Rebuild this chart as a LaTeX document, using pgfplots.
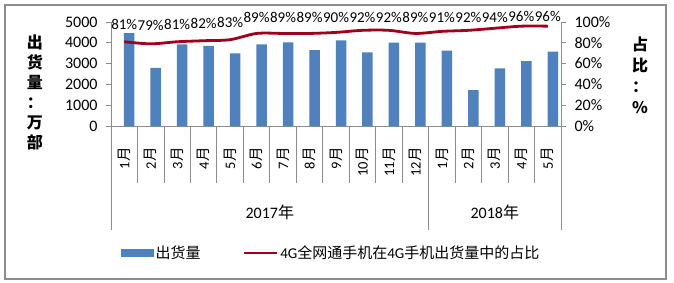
\documentclass[border=0pt]{standalone}
\usepackage{fontspec}
\setmainfont{Carlito}
\newfontfamily\cjk{Noto Sans CJK SC}
\usepackage{pgfplots}
\pgfplotsset{compat=1.18}
\definecolor{barblue}{HTML}{4F81BD}
\definecolor{linered}{HTML}{A0001E}
\definecolor{axgray}{HTML}{8C8C8C}
\definecolor{framegray}{HTML}{8C8C8C}
\newcommand\yue{{\cjk 月}}
\begin{document}
\begin{tikzpicture}[x=1pt,y=1pt]
\useasboundingbox (0,0) rectangle (674,282);
\fill[white] (0,0) rectangle (674,282);
\draw[framegray, line width=1.2pt] (5,3) rectangle (666,277);

\begin{axis}[
  at={(111pt,156pt)}, anchor=south west, scale only axis,
  width=450pt, height=104pt,
  xmin=0.5, xmax=17.5, ymin=0, ymax=5000,
  axis y line*=left, axis x line*=bottom,
  axis line style={axgray, line width=0.8pt},
  ytick={0,1000,...,5000},
  xtick={1,...,17},
  xticklabels={1\yue,2\yue,3\yue,4\yue,5\yue,6\yue,7\yue,8\yue,9\yue,10\yue,11\yue,12\yue,1\yue,2\yue,3\yue,4\yue,5\yue},
  xtick style={draw=none},
  ytick style={axgray, line width=0.8pt},
  tick align=outside, major tick length=5pt,
  /pgf/number format/assume math mode=true,
  /pgf/number format/1000 sep={},
  yticklabel style={font=\fontsize{16}{16}\selectfont, xshift=-5pt},
  xticklabel style={yshift=-16pt, rotate=90, anchor=east, inner sep=0pt, font=\fontsize{14.5}{14.5}\selectfont},
  clip=false,
]
\addplot[ybar, bar width=10.5pt, bar shift=5pt, fill=barblue, draw=none] coordinates {
(1,4470) (2,2790) (3,3930) (4,3850) (5,3490) (6,3930) (7,4020) (8,3650) (9,4120)
(10,3540) (11,4010) (12,4010) (13,3620) (14,1730) (15,2770) (16,3120) (17,3570)};
\pgfplotsinvokeforeach{0.5,1.5,2.5,3.5,4.5,5.5,6.5,7.5,8.5,9.5,10.5,11.5,12.5,13.5,14.5,15.5,16.5,17.5}{
  \draw[axgray, line width=0.8pt] (axis cs:#1,0) -- ++(0pt,-57pt);
}
\pgfplotsinvokeforeach{0.5,12.5,17.5}{
  \draw[axgray, line width=0.8pt] (axis cs:#1,0) -- ++(0pt,-104pt);
}
\node[font=\fontsize{16}{16}\selectfont, yshift=-86pt] at (axis cs:6.5,0) {2017{\cjk 年}};
\node[font=\fontsize{16}{16}\selectfont, yshift=-86pt] at (axis cs:15,0) {2018{\cjk 年}};
\end{axis}

\begin{axis}[
  at={(111pt,156pt)}, anchor=south west, scale only axis,
  width=450pt, height=104pt,
  xmin=0.5, xmax=17.5, ymin=0, ymax=100,
  axis y line*=right, axis x line=none,
  axis line style={axgray, line width=0.8pt},
  ytick={0,20,...,100},
  yticklabel={\pgfmathprintnumber{\tick}\%},
  ytick style={axgray, line width=0.8pt},
  tick align=outside, major tick length=5pt,
  /pgf/number format/assume math mode=true,
  yticklabel style={font=\fontsize{16}{16}\selectfont, xshift=5pt},
  clip=false,
  legend style={at={(0.022,-1.221)}, anchor=west, draw=none, fill=none,
    legend columns=2, font=\fontsize{15}{15}\selectfont,
    /tikz/every even column/.append style={column sep=40pt},
    inner sep=0pt, nodes={inner sep=2pt}},
  legend cell align=left,
]
\addlegendimage{legend image code/.code={\fill[barblue] (0pt,-3.5pt) rectangle (32pt,3.5pt);}}
\addlegendentry{{\cjk 出货量}}
\addplot[linered, line width=2.8pt, smooth,
  legend image code/.code={\draw[linered, line width=2.8pt] (0pt,0pt) -- (33pt,0pt);}]
  coordinates {(1,81) (2,79) (3,81) (4,82) (5,83) (6,89) (7,89) (8,89) (9,90)
  (10,92) (11,92) (12,89) (13,91) (14,92) (15,94) (16,96) (17,96)};
\addlegendentry{4G{\cjk 全网通手机在}4G{\cjk 手机出货量中的占比}}
\addplot[draw=none, forget plot, nodes near coords={\pgfplotspointmeta\%},
  point meta=explicit symbolic,
  every node near coord/.style={anchor=center, inner sep=0pt, font=\fontsize{15}{15}\selectfont}]
  coordinates {(1,98)[81] (2,96.5)[79] (3,98)[81] (4,99)[82] (5,100)[83] (6,104.5)[89]
  (7,104.5)[89] (8,104.5)[89] (9,104.5)[90] (10,104.5)[92] (11,104.5)[92] (12,104.5)[89]
  (13,104.5)[91] (14,104.5)[92] (15,104.5)[94] (16,105)[96] (17,105)[96]};
\end{axis}

\node[align=center, font=\cjk\bfseries\fontsize{16}{20}\selectfont] at (35,190) {出\\货\\量\\：\\万\\部};
\node[align=center, font=\cjk\bfseries\fontsize{16}{21}\selectfont] at (640,207) {占\\比\\：\\\%};
\end{tikzpicture}
\end{document}
